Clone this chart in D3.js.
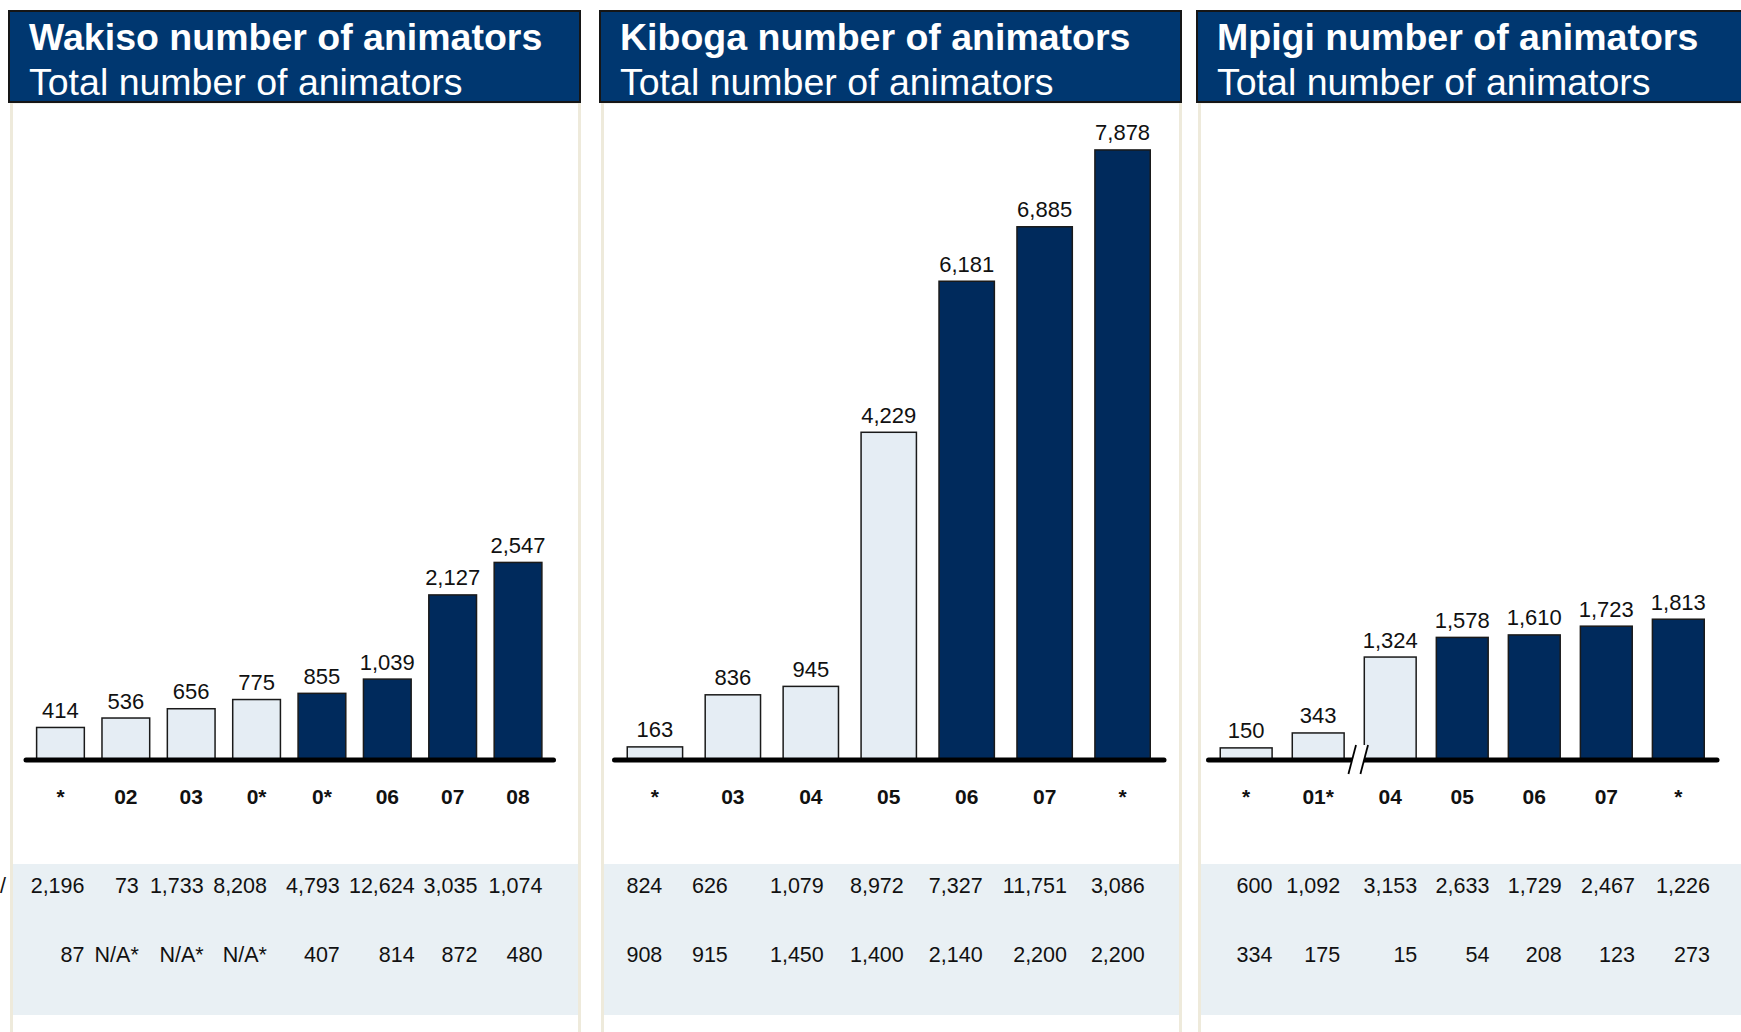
<!DOCTYPE html>
<html>
<head>
<meta charset="utf-8">
<script src="https://cdn.jsdelivr.net/npm/d3@7"></script>
<style>
  html, body { margin: 0; padding: 0; background: #ffffff; }
  svg { display: block; font-family: "Liberation Sans", Arial, sans-serif; }
</style>
</head>
<body>
<svg id="chart" width="1741" height="1032"></svg>
<script>
// ---- Wakiso ----
const wakisoYears = ["*", "02", "03", "0*", "0*", "06", "07", "08"];
const wakisoAnimators = [414, 536, 656, 775, 855, 1039, 2127, 2547];
const wakisoRowA = ["2,196", "73", "1,733", "8,208", "4,793", "12,624", "3,035", "1,074"];
const wakisoRowB = ["87", "N/A*", "N/A*", "N/A*", "407", "814", "872", "480"];

// ---- Kiboga ----
const kibogaYears = ["*", "03", "04", "05", "06", "07", "*"];
const kibogaAnimators = [163, 836, 945, 4229, 6181, 6885, 7878];
const kibogaRowA = ["824", "626", "1,079", "8,972", "7,327", "11,751", "3,086"];
const kibogaRowB = ["908", "915", "1,450", "1,400", "2,140", "2,200", "2,200"];

// ---- Mpigi ----
const mpigiYears = ["*", "01*", "04", "05", "06", "07", "*"];
const mpigiAnimators = [150, 343, 1324, 1578, 1610, 1723, 1813];
const mpigiRowA = ["600", "1,092", "3,153", "2,633", "1,729", "2,467", "1,226"];
const mpigiRowB = ["334", "175", "15", "54", "208", "123", "273"];

const subtitle = "Total number of animators";

// Panel layout (page pixels); tableCols are the right edges of the table columns
const panels = [
  { title: "Wakiso number of animators", years: wakisoYears, values: wakisoAnimators,
    rows: [wakisoRowA, wakisoRowB], x0: 9, x1: 580, axisL: 25.5, axisR: 553,
    inner: 0.27, firstDark: 4,
    tableCols: [84.5, 138.8, 203.7, 267, 339.8, 414.7, 477.4, 542.4] },
  { title: "Kiboga number of animators", years: kibogaYears, values: kibogaAnimators,
    rows: [kibogaRowA, kibogaRowB], x0: 600, x1: 1181, axisL: 614, axisR: 1163.5,
    inner: 0.29, firstDark: 4,
    tableCols: [662.3, 727.8, 823.8, 903.8, 982.6, 1067, 1144.7] },
  { title: "Mpigi number of animators", years: mpigiYears, values: mpigiAnimators,
    rows: [mpigiRowA, mpigiRowB], x0: 1197, x1: 1770, axisL: 1208, axisR: 1716.5,
    inner: 0.28, firstDark: 3, breakAfter: 1,
    tableCols: [1272.4, 1340.1, 1417.3, 1489.4, 1561.6, 1634.9, 1709.9] }
];

const C = {
  header: "#003770",
  headerStroke: "#161616",
  dark: "#002a5c",
  light: "#e5edf4",
  frame: "#eeeadb",
  band: "#e9f0f4",
  ink: "#111111"
};

const baseY = 759.5;
const headerTop = 11, headerBottom = 102;
const bandTop = 864, bandBottom = 1015;
const rowBaselines = [893, 961.5];

// one vertical scale shared by all three districts
const y = d3.scaleLinear().domain([0, 8000]).range([baseY, baseY - 619]);

const svg = d3.select("#chart");

panels.forEach(p => {
  const g = svg.append("g");

  // panel frame and table band
  g.append("rect")
    .attr("x", p.x0 + 2.5).attr("y", headerBottom)
    .attr("width", p.x1 - p.x0 - 3).attr("height", 1040 - headerBottom)
    .attr("fill", "#ffffff").attr("stroke", C.frame).attr("stroke-width", 3);
  g.append("rect")
    .attr("x", p.x0 + 4).attr("y", bandTop)
    .attr("width", p.x1 - p.x0 - 6).attr("height", bandBottom - bandTop)
    .attr("fill", C.band);

  // header
  g.append("rect")
    .attr("x", p.x0).attr("y", headerTop)
    .attr("width", p.x1 - p.x0).attr("height", headerBottom - headerTop)
    .attr("fill", C.header).attr("stroke", C.headerStroke).attr("stroke-width", 2);
  g.append("text")
    .attr("x", p.x0 + 20).attr("y", 50)
    .attr("fill", "#ffffff").attr("font-size", 37.5).attr("font-weight", "bold")
    .text(p.title);
  g.append("text")
    .attr("x", p.x0 + 20).attr("y", 95)
    .attr("fill", "#ffffff").attr("font-size", 37.5)
    .text(subtitle);

  // bars
  const idx = p.values.map((_, i) => i);
  const x = d3.scaleBand().domain(idx).range([p.axisL, p.axisR])
    .paddingInner(p.inner).paddingOuter(0.17);

  g.selectAll("rect.bar").data(idx).enter().append("rect")
    .attr("class", "bar")
    .attr("x", i => x(i)).attr("y", i => y(p.values[i]))
    .attr("width", x.bandwidth()).attr("height", i => y(0) - y(p.values[i]))
    .attr("fill", i => i >= p.firstDark ? C.dark : C.light)
    .attr("stroke", "#1a1a1a").attr("stroke-width", 1.5);

  g.selectAll("text.val").data(idx).enter().append("text")
    .attr("class", "val")
    .attr("x", i => x(i) + x.bandwidth() / 2).attr("y", i => y(p.values[i]) - 9.5)
    .attr("text-anchor", "middle").attr("font-size", 22).attr("fill", C.ink)
    .text(i => d3.format(",")(p.values[i]));

  // category axis: the domain line is the heavy baseline
  const axis = d3.axisBottom(x).tickSize(0).tickSizeOuter(0).tickPadding(30)
    .tickFormat(i => p.years[i]);
  const ax = g.append("g").attr("transform", `translate(0,${baseY})`).call(axis);
  ax.select(".domain").attr("stroke", "#000").attr("stroke-width", 5)
    .attr("stroke-linecap", "round");
  ax.selectAll(".tick text")
    .attr("font-size", 21).attr("font-weight", "bold").attr("fill", C.ink)
    .attr("font-family", "\"Liberation Sans\", Arial, sans-serif");

  // axis break between the early and later years
  if (p.breakAfter !== undefined) {
    const mid = (x(p.breakAfter) + x.bandwidth() + x(p.breakAfter + 1)) / 2 + 4;
    const dx = 3.8, dy = 14.5;
    const a = mid - 6, b = mid + 6;
    g.append("polygon")
      .attr("points", [[a - dx, baseY + dy], [a + dx, baseY - dy], [b + dx, baseY - dy], [b - dx, baseY + dy]].join(" "))
      .attr("fill", "#ffffff");
    [a, b].forEach(cx => {
      g.append("line")
        .attr("x1", cx - dx).attr("y1", baseY + dy)
        .attr("x2", cx + dx).attr("y2", baseY - dy)
        .attr("stroke", "#000").attr("stroke-width", 1.8);
    });
  }

  // table rows, right-aligned in their columns
  p.rows.forEach((row, r) => {
    g.selectAll(`text.row${r}`).data(idx).enter().append("text")
      .attr("class", `row${r}`)
      .attr("x", i => p.tableCols[i]).attr("y", rowBaselines[r])
      .attr("text-anchor", "end").attr("font-size", 21.5).attr("fill", C.ink)
      .text(i => row[i]);
  });
});

// row label fragment at the left page edge
svg.append("text")
  .attr("x", 0).attr("y", rowBaselines[0])
  .attr("font-size", 21.5).attr("fill", C.ink)
  .text("/");
</script>
</body>
</html>
